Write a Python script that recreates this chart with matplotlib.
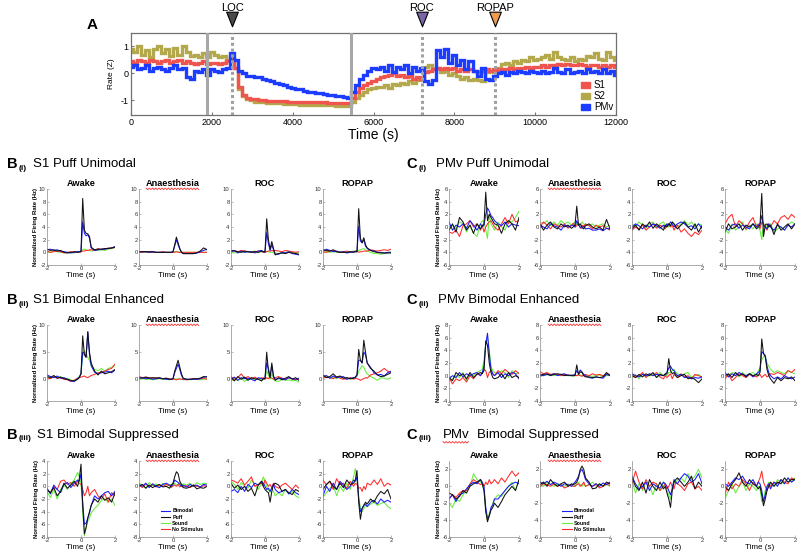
import numpy as np
import matplotlib
matplotlib.use("Agg")
import matplotlib.pyplot as plt
from matplotlib.lines import Line2D
from matplotlib.patches import Patch
from matplotlib.path import Path
from matplotlib.transforms import IdentityTransform, blended_transform_factory

plt.rcParams["font.family"] = ["Liberation Sans", "DejaVu Sans"]
plt.rcParams["axes.unicode_minus"] = False

W, H = 800, 558

# ---------------------------------------------------------------- panel A data
A_TIME = list(range(0, 12001, 100))
A_S2 = [0.9, 0.8, 1.0, 0.7, 0.85, 0.6, 0.9, 1.0, 0.75, 0.9, 0.65, 0.95, 0.7, 1.0, 0.8, 0.65, 0.7, 0.6, 0.75,
        0.6, 0.8, 0.7, 0.6, 0.65, 0.5, 0.6,
        0.2, -0.6, -0.85, -0.95, -1.0,
        -1.05, -1.05, -1.08, -1.1, -1.1, -1.12, -1.12, -1.13, -1.14,
        -1.15, -1.15, -1.16, -1.16, -1.17, -1.17, -1.18, -1.18, -1.18, -1.19, -1.19, -1.2, -1.2, -1.2, -1.2,
        -1.05, -0.9, -0.8, -0.7, -0.6, -0.55, -0.5, -0.5, -0.45, -0.55, -0.4, -0.45, -0.35, -0.4, -0.3, -0.35, -0.25, -0.2,
        0.25, 0.3, 0.15, 0.2, 0.05, 0.1, -0.05, 0.0, -0.1, -0.2, -0.15, -0.25, -0.2, -0.25, -0.3, 0.05, 0.1, 0.05,
        0.2, 0.35, 0.4, 0.3, 0.45, 0.4, 0.5, 0.45, 0.6, 0.5, 0.55, 0.6, 0.7, 0.55, 0.8, 0.6, 0.55, 0.5, 0.6, 0.45,
        0.55, 0.5, 0.65, 0.6, 0.75, 0.55, 0.5, 0.8, 0.6, 0.5]
A_S1 = [0.45, 0.4, 0.5, 0.45, 0.4, 0.5, 0.45, 0.4, 0.45, 0.5, 0.4, 0.45, 0.5, 0.4, 0.45, 0.4, 0.35, 0.4, 0.45,
        0.35, 0.4, 0.4, 0.35, 0.4, 0.45, 0.5,
        0.2, -0.5, -0.8, -0.9, -0.95,
        -0.97, -1.0, -1.0, -1.02, -1.02, -1.03, -1.04, -1.04, -1.05,
        -1.05, -1.05, -1.06, -1.06, -1.07, -1.07, -1.08, -1.08, -1.08, -1.09, -1.09, -1.1, -1.1, -1.1, -1.1,
        -0.9, -0.7, -0.55, -0.45, -0.35, -0.3, -0.2, -0.15, -0.1, -0.05, 0.0, -0.1, -0.05, -0.15, -0.1, -0.2, -0.15, -0.2,
        0.05, 0.1, 0.15, 0.2, 0.15, 0.2, 0.15, 0.2, 0.1, 0.15, 0.1, 0.15, 0.1, 0.05, 0.1, 0.15, 0.1, 0.15,
        0.1, 0.15, 0.15, 0.2, 0.15, 0.2, 0.2, 0.25, 0.2, 0.25, 0.25, 0.3, 0.25, 0.3, 0.3, 0.35, 0.3, 0.35, 0.3, 0.3,
        0.35, 0.3, 0.25, 0.3, 0.3, 0.25, 0.3, 0.25, 0.3, 0.25]
A_PMV = [0.25, 0.3, 0.15, 0.2, 0.3, 0.1, 0.2, 0.25, 0.15, 0.1, 0.2, 0.3, 0.15, 0.2, -0.15, -0.2, 0.1, 0.05, 0.15,
         -0.05, 0.15, 0.1, 0.05, 0.15, 0.2, 0.75,
         0.5, 0.1, 0.0, -0.1, -0.1,
         -0.12, -0.15, -0.2, -0.25, -0.3, -0.35, -0.4, -0.45, -0.5,
         -0.55, -0.58, -0.6, -0.65, -0.68, -0.7, -0.72, -0.75, -0.78, -0.8, -0.82, -0.85, -0.85, -0.88, -0.9,
         -0.7, -0.45, -0.2, -0.05, 0.1, 0.2, 0.15, 0.25, 0.1, 0.3, 0.05, 0.25, 0.15, 0.3, 0.0, 0.25, 0.1, 0.2,
         -0.3, -0.4, -0.25, 0.85, 0.6, 0.9, 0.4, 0.7, 0.3, 0.5, 0.15, 0.45, 0.1, -0.1, 0.2, -0.2, -0.25, -0.1,
         0.0, 0.05, -0.05, 0.05, 0.0, 0.1, 0.05, 0.0, 0.1, 0.05, 0.0, 0.1, 0.0, 0.05, 0.2, 0.05, 0.0, 0.15, 0.0, 0.05,
         0.1, 0.0, 0.15, 0.05, 0.1, 0.0, 0.15, 0.0, 0.1, -0.05]
A_NAMES = ["S1", "S2", "PMv"]
SEGMENT_BOUNDS = [1890, 5450]
EVENT_TIMES = [2510, 7200, 9000]
EVENT_LABELS = ["LOC", "ROC", "ROPAP"]

# ------------------------------------------------------- PSTH panels (B and C)
TIME = [-2.0, -1.8, -1.6, -1.4, -1.2, -1.0, -0.8, -0.6, -0.4, -0.2, -0.1, 0.0,
        0.1, 0.2, 0.3, 0.4, 0.5, 0.6, 0.8, 1.0, 1.2, 1.4, 1.6, 1.8, 2.0]
STATES = ["Awake", "Anaesthesia", "ROC", "ROPAP"]
TRACE_NAMES = ["Bimodal", "Puff", "Sound", "No Stimulus"]
B_TITLES = ["S1 Puff Unimodal", "S1 Bimodal Enhanced", "S1 Bimodal Suppressed"]
C_TITLES = ["PMv Puff Unimodal", "PMv Bimodal Enhanced", "PMv  Bimodal Suppressed"]
ROW_TAGS = ["(i)", "(ii)", "(iii)"]

# each panel: [bimodal, puff, sound, no stimulus]
B1_AWAKE = [
    [0.4, 0.5, 0.3, 0.4, 0.2, 0.1, 0.0, -0.1, 0.0, 0.1, 0.1, 0.1, 4.8, 3.0, 2.6, 2.8, 2.2, 0.7, 0.3, 0.4, 0.5, 0.5, 0.6, 0.7, 0.9],
    [0.5, 0.3, 0.4, 0.2, 0.3, 0.0, -0.1, 0.0, 0.1, 0.0, 0.1, 0.1, 8.5, 3.5, 3.0, 2.9, 2.5, 0.8, 0.4, 0.5, 0.5, 0.6, 0.6, 0.7, 0.8],
    [0.1, 0.0, 0.2, 0.1, 0.0, 0.0, -0.1, 0.0, -0.1, 0.1, 0.1, 0.2, 0.4, 0.5, 0.4, 0.3, 0.3, 0.2, 0.3, 0.3, 0.4, 0.3, 0.5, 0.6, 0.7],
    [0.2, 0.0, 0.1, 0.2, 0.1, -0.1, 0.0, 0.1, 0.0, 0.1, 0.0, 0.1, 0.2, 0.2, 0.3, 0.3, 0.4, 0.4, 0.3, 0.6, 0.4, 0.5, 0.7, 0.6, 0.9]]
B1_ANAES = [
    [0.1, 0.1, 0.1, 0.0, 0.1, 0.0, 0.0, 0.0, 0.0, 0.0, 0.0, 0.1, 1.0, 2.0, 1.2, 0.5, 0.0, -0.2, -0.2, -0.2, -0.2, -0.1, 0.1, 0.3, 0.5],
    [0.1, 0.1, 0.1, 0.1, 0.1, 0.0, 0.0, 0.0, 0.0, 0.0, 0.0, 0.1, 1.2, 2.4, 1.5, 0.6, 0.0, -0.2, -0.2, -0.2, -0.2, -0.1, 0.2, 0.7, 0.4],
    [0.0, 0.1, 0.0, 0.0, 0.0, 0.0, 0.0, 0.0, 0.0, 0.0, 0.0, 0.0, 0.1, 0.1, 0.1, 0.0, 0.0, 0.0, 0.0, 0.0, 0.0, 0.0, 0.0, 0.0, 0.0],
    [0.0, 0.0, 0.1, 0.0, 0.0, 0.0, 0.0, 0.1, 0.0, 0.0, 0.0, 0.0, 0.0, 0.1, 0.0, 0.0, 0.0, 0.0, 0.0, 0.0, 0.0, 0.0, 0.0, 0.0, 0.0]]
B1_ROC = [
    [0.1, 0.3, -0.1, 0.2, 0.0, 0.1, 0.1, -0.1, 0.2, 0.3, 0.1, 0.0, 3.1, 1.4, 0.3, 1.2, 0.4, -0.3, -0.3, 0.0, -0.1, 0.1, -0.2, -0.3, -0.4],
    [0.3, 0.2, 0.1, 0.0, 0.2, 0.1, 0.0, 0.1, 0.0, 0.2, 0.1, 0.1, 5.3, 2.0, 0.5, 1.7, 0.6, -0.4, -0.2, -0.1, -0.2, 0.0, -0.1, -0.2, -0.3],
    [0.0, -0.1, 0.0, 0.1, 0.0, 0.1, 0.1, 0.2, 0.0, 0.1, 0.1, 0.2, 0.1, 0.1, 0.0, 0.0, -0.1, -0.1, -0.2, -0.1, 0.0, 0.1, -0.1, 0.0, -0.1],
    [0.2, 0.3, 0.1, 0.3, 0.2, 0.1, 0.0, 0.1, 0.2, 0.1, 0.0, 0.0, 0.1, 0.2, 0.2, 0.3, 0.2, 0.3, 0.2, 0.1, 0.3, 0.2, 0.1, 0.0, 0.1]]
B1_ROPAP = [
    [0.2, 0.5, 0.3, 0.1, 0.2, 0.0, 0.1, -0.1, 0.0, 0.1, 0.1, 0.1, 4.1, 1.8, 1.5, 2.0, 1.0, 0.6, 0.3, 0.2, 0.0, 0.0, -0.1, 0.0, 0.0],
    [0.4, 0.3, 0.2, 0.4, 0.1, 0.0, 0.0, 0.0, 0.1, 0.0, 0.1, 0.1, 6.9, 2.2, 1.5, 2.3, 1.2, 0.7, 0.3, 0.1, 0.0, -0.1, -0.1, -0.1, -0.1],
    [0.0, 0.1, 0.0, 0.1, 0.0, 0.1, 0.0, 0.0, 0.1, 0.2, 0.2, 0.3, 0.3, 0.4, 0.5, 0.6, 0.4, 0.2, 0.0, -0.2, -0.2, -0.3, -0.2, -0.1, 0.1],
    [0.1, 0.0, 0.2, 0.3, 0.1, 0.0, 0.1, 0.2, 0.0, 0.1, 0.2, 0.2, 0.0, 0.1, 0.1, 0.2, 0.2, 0.2, 0.4, 0.3, 0.2, 0.3, 0.4, 0.3, 0.5]]

B2_AWAKE = [
    [0.8, 0.5, 0.3, 0.6, 0.2, 0.3, 0.0, -0.3, -0.4, 0.1, 0.4, 1.0, 5.0, 4.8, 4.2, 8.8, 4.5, 2.5, 1.3, 1.0, 1.2, 1.3, 1.5, 1.2, 1.7],
    [0.5, 0.3, 0.7, 0.2, 0.4, 0.1, 0.0, -0.2, -0.3, 0.0, 0.3, 1.0, 8.0, 4.5, 4.0, 8.7, 5.0, 3.0, 1.5, 0.8, 1.5, 1.0, 1.2, 1.4, 1.8],
    [0.6, 0.2, 0.4, 0.3, 0.5, 0.1, 0.2, -0.2, -0.2, 0.2, 0.5, 1.2, 4.5, 5.3, 4.8, 4.0, 3.5, 2.5, 1.8, 1.6, 2.0, 1.5, 2.0, 2.2, 2.5],
    [0.3, 0.1, 0.5, 0.2, 0.3, 0.0, -0.1, -0.4, -0.2, 0.2, 0.3, 0.4, 0.5, 0.6, 0.4, 0.3, 0.5, 0.7, 0.9, 1.2, 1.3, 1.5, 1.8, 2.0, 2.8]]
B2_ANAES = [
    [0.2, 0.3, 0.1, 0.2, 0.0, 0.1, 0.2, 0.1, 0.0, 0.0, 0.0, 0.1, 1.2, 2.0, 2.8, 1.8, 0.7, 0.1, 0.0, 0.0, 0.0, 0.0, 0.1, 0.4, 0.5],
    [0.3, 0.2, 0.4, 0.2, 0.3, 0.2, 0.3, 0.1, 0.2, 0.0, 0.0, 0.1, 1.5, 2.5, 3.5, 2.2, 1.0, 0.2, 0.0, 0.0, 0.1, 0.1, 0.2, 0.5, 0.4],
    [0.0, 0.1, 0.0, 0.0, -0.1, 0.0, 0.1, 0.0, 0.0, -0.1, 0.0, 0.0, 0.1, 0.0, 0.1, 0.0, 0.0, -0.1, 0.0, -0.1, 0.0, 0.0, -0.1, 0.0, 0.1],
    [0.5, 0.3, 0.4, 0.3, 0.2, 0.3, 0.2, 0.1, 0.2, 0.1, 0.0, 0.1, 0.0, -0.1, 0.0, 0.1, 0.0, 0.0, -0.1, 0.0, 0.1, 0.0, 0.1, 0.2, 0.0]]
B2_ROC = [
    [0.0, 0.4, -0.2, 0.3, 0.1, 0.2, 0.0, -0.3, 0.3, 0.1, 0.0, 0.2, 3.0, 2.0, 0.5, 2.5, 0.6, 0.0, 0.1, 0.2, -0.1, 0.3, 0.1, 0.0, 0.2],
    [0.3, -0.3, 0.5, 0.0, 0.4, -0.2, 0.3, 0.1, 0.0, -0.3, 0.2, 0.1, 5.0, 1.5, 0.3, 3.0, 0.5, -0.2, 0.3, -0.1, 0.2, 0.5, 0.0, 0.3, -0.2],
    [-0.3, 0.1, -0.2, 0.2, -0.4, 0.0, 0.2, -0.1, 0.1, -0.3, 0.0, 0.1, 1.5, 0.8, 0.0, 1.0, 0.2, -0.3, -0.4, 0.0, -0.2, -0.1, -0.3, -0.2, -0.5],
    [0.5, 0.0, 0.3, 1.0, 0.2, 0.5, 0.1, 0.4, 0.0, 0.3, 0.2, 0.0, 0.3, 0.1, 0.4, 0.2, 0.0, 0.3, 0.5, 0.2, 0.0, 0.3, 0.1, -0.1, 0.1]]
B2_ROPAP = [
    [0.5, 0.7, 0.2, 0.6, 0.3, 0.4, 0.5, 0.0, 0.2, 0.3, 0.3, 0.8, 3.5, 3.5, 3.0, 5.0, 4.5, 3.0, 2.2, 1.2, 0.8, 0.9, 0.6, 1.2, 1.5],
    [0.8, 0.3, 0.5, 1.0, 0.4, 0.6, 0.2, 0.3, 0.1, 0.2, 0.4, 0.8, 5.5, 3.5, 3.0, 7.2, 5.0, 3.0, 2.0, 1.5, 0.8, 0.5, 0.6, 0.9, 1.2],
    [0.3, 0.5, 0.2, 0.4, 0.1, 0.6, 0.2, 0.3, 0.0, 0.2, 0.4, 0.5, 1.5, 2.0, 2.5, 2.2, 1.5, 1.0, 0.5, 0.2, -0.2, 0.3, 0.2, 0.0, 0.3],
    [0.2, 0.4, 0.3, 0.1, 0.5, 0.2, 0.0, 0.1, 0.3, 0.0, 0.2, 0.1, 0.0, -0.2, 0.0, 0.1, 0.3, 0.2, 0.8, 1.0, 1.2, 1.5, 2.0, 1.5, 1.3]]

B3_AWAKE = [
    [-0.3, -1.2, 0.2, -0.5, -1.0, 0.3, 0.6, -0.2, 0.5, 1.0, 0.8, 2.0, -2.5, -6.0, -5.8, -5.0, -4.2, -3.0, -1.5, -2.0, -1.5, -1.0, -0.8, -1.5, -0.8],
    [-0.5, -1.0, -0.2, -1.5, -0.8, 0.5, -0.3, 0.2, 0.8, 0.0, 1.2, 3.5, -3.0, -7.5, -6.5, -5.0, -4.0, -3.0, -2.0, -2.5, -1.5, -2.2, -1.8, -2.5, -1.0],
    [-0.8, -1.8, -0.5, -2.0, -0.5, 0.2, -0.5, 0.4, 1.0, 2.2, 1.5, 0.5, -4.0, -7.8, -6.5, -5.5, -5.0, -4.2, -3.5, -3.0, -2.2, -2.0, -2.5, -2.0, -3.0],
    [-0.5, -1.0, 0.0, -0.5, 0.8, 1.0, 0.3, 0.6, 0.0, 0.8, 0.5, 0.3, -0.5, -1.5, -1.0, 0.0, -1.5, -1.0, -0.5, -1.5, -2.0, -1.2, -2.5, -1.0, -1.5]]
B3_ANAES = [
    [0.3, 0.0, 0.5, -0.2, 0.4, 0.0, -0.2, 0.3, 0.5, 0.2, 0.0, 0.3, 1.0, 0.8, 0.6, 0.3, 0.0, 0.2, -0.1, 0.3, 0.0, 0.2, -0.1, 0.3, 0.2],
    [0.0, 0.3, -0.3, 0.2, -0.2, 0.1, 0.3, -0.1, 0.0, -0.3, 0.2, 0.5, 1.5, 2.3, 2.0, 0.8, 0.3, -0.2, -0.3, -0.1, 0.2, -0.4, -0.2, -0.3, 0.0],
    [0.5, 0.2, -0.3, 0.6, 0.1, 0.4, -0.2, 0.5, 0.0, 0.2, 0.3, 0.0, 0.5, 0.2, 0.3, 0.6, 0.1, 0.4, 0.2, 0.5, 0.0, 0.6, 0.3, 0.5, 0.4],
    [0.2, -0.2, 0.4, 0.0, 0.3, -0.1, 0.2, 0.0, 0.3, 0.1, -0.2, 0.1, 0.2, 0.0, 0.3, -0.1, 0.2, 0.0, 0.1, -0.2, 0.2, 0.0, -0.1, 0.1, 0.0]]
B3_ROC = [
    [-0.8, -0.5, -1.0, 0.0, -0.8, 0.3, -0.2, 0.5, 0.2, 0.8, 0.5, 0.0, -0.5, -0.3, -0.8, -0.2, 0.3, -0.5, -1.0, -0.8, -0.5, -1.2, -0.5, -1.0, -1.3],
    [0.5, -0.3, 0.2, -0.5, 0.0, -0.8, -0.3, -1.5, 0.2, 0.8, 0.0, -0.5, -0.8, -1.0, -2.5, -0.8, 0.3, 0.5, 0.2, -0.8, -0.5, -1.0, -1.3, -0.5, -0.8],
    [0.8, 0.3, -0.5, 0.6, 0.0, -0.3, 1.0, 0.2, -0.5, 0.5, 1.5, 0.8, 0.0, -0.5, -1.0, -0.3, -0.8, -1.5, -1.0, -1.5, -0.5, -1.2, -0.8, -1.5, -1.8],
    [1.0, 0.8, 0.5, 1.2, 0.2, 0.8, 1.5, 0.0, 0.3, 0.5, 0.0, 1.0, 0.5, 0.0, 0.3, -0.2, 0.5, 0.0, -0.3, 0.2, 0.5, 0.0, -0.5, 0.2, -0.3]]
B3_ROPAP = [
    [-1.5, 0.0, -0.8, 0.5, -0.5, 0.8, 0.2, -0.5, 0.0, 1.0, 0.8, 1.5, -2.0, -4.0, -3.5, -3.0, -2.8, -3.2, -2.5, -2.2, -2.8, -2.0, -2.5, -2.2, -2.5],
    [-0.5, 0.3, 0.8, 0.0, -0.5, 0.5, -0.2, 1.0, 0.3, 0.5, 1.0, 2.5, -2.5, -5.2, -3.5, -3.0, -2.5, -2.8, -2.0, -2.5, -1.5, -0.8, -1.2, -0.5, -2.0],
    [-1.8, -1.0, -0.3, 0.2, -1.5, 0.0, -0.8, 0.5, -0.5, 1.5, 2.8, 1.0, -1.5, -3.5, -4.0, -3.5, -3.0, -3.2, -2.8, -2.5, -3.0, -2.7, -2.5, -3.2, -3.5],
    [1.0, 0.2, 0.8, -0.5, 1.2, 0.3, 0.5, -0.3, 0.8, 0.0, 0.5, 0.3, -0.3, -0.2, -0.8, 0.0, -0.5, 0.5, 0.2, 1.0, 0.3, 1.2, 0.0, 0.5, 0.2]]

C1_AWAKE = [
    [0.8, -0.5, 0.3, 0.0, 0.5, -0.2, 1.0, 0.3, -0.5, 0.5, 0.0, 0.3, 2.0, 3.0, 2.5, 1.8, 1.5, 1.0, 0.5, 0.2, 0.8, 0.0, 0.5, 0.3, 0.2],
    [-0.5, 0.5, -0.8, 1.5, 0.8, -0.5, 0.3, -1.0, 0.5, -0.3, 0.2, 0.5, 5.5, 1.0, 2.0, 1.5, 1.0, 0.5, 0.3, -1.0, 0.5, 1.0, 0.5, -0.5, 1.5],
    [-0.5, 0.3, -0.3, 0.8, 0.5, -0.8, 0.3, -1.0, -1.5, 0.5, 1.0, 0.8, -0.5, -1.8, 2.0, 0.5, 0.0, -0.5, 0.8, 0.0, -0.5, 1.0, 0.8, 1.5, 2.5],
    [-0.8, -1.0, -0.5, -1.5, 0.2, 0.5, 1.0, 0.0, 0.5, -0.5, 0.3, -0.8, 0.0, 0.5, 0.8, 1.0, 0.5, 0.0, -0.5, 0.5, 1.5, 0.5, 2.0, 0.8, 1.0]]
C1_ANAES = [
    [0.3, 0.0, -0.3, 0.5, 0.2, 0.0, -0.5, 0.3, 0.0, 0.2, 0.3, 0.0, 1.0, 0.3, 0.0, -0.2, 0.2, -0.3, -0.2, -0.5, -0.5, -0.3, -0.6, -0.2, -0.3],
    [0.5, -0.5, 0.3, 0.8, 0.0, -0.3, 0.5, 0.0, 0.3, -0.2, 0.0, 0.3, 3.3, 0.3, 0.5, 0.0, -0.3, 0.2, 0.5, 0.0, -0.3, 0.0, -0.5, 1.2, -0.3],
    [0.8, 0.5, 1.0, 0.2, 0.8, 0.3, 1.0, 0.5, 0.8, 0.3, 0.5, 0.8, 0.3, 0.6, 0.3, 0.8, 0.5, 0.3, 0.2, 0.5, 0.0, 0.3, 0.5, 0.0, 0.3],
    [0.0, 0.8, 0.3, -0.3, 0.5, 0.2, 0.0, 0.5, -0.2, 0.3, 0.6, 0.0, 0.2, 0.5, -0.2, 0.3, 0.0, 0.5, 0.2, -0.3, 0.3, 0.0, 0.2, -0.2, -0.5]]
C1_ROC = [
    [0.0, 0.5, 0.2, -0.3, 0.3, 0.0, 0.5, 0.2, -0.2, 0.3, 0.0, 0.5, 0.3, 0.8, 0.5, 0.0, 0.3, 0.5, 0.8, 0.5, 0.0, 0.2, -0.3, 0.5, -0.2],
    [-0.3, 0.3, -0.5, 0.5, 0.0, 0.8, -0.2, 0.5, 0.0, -0.5, 0.3, 0.0, 0.5, 0.2, 0.8, 0.5, 0.0, -0.3, 0.3, 0.8, 0.0, -0.5, 0.5, -0.8, 0.2],
    [0.5, 0.0, 0.8, 0.3, -0.2, 0.5, 0.8, 0.0, 0.5, 0.8, 0.2, 0.5, 0.0, 0.3, 0.8, 0.5, 0.2, 0.0, 0.5, 1.0, 0.3, 0.8, 0.0, 0.5, 0.3],
    [-0.5, 0.0, -0.3, 0.3, -0.5, 0.0, 0.5, -0.2, 0.3, 0.0, -0.3, 0.2, 0.5, 0.0, 0.3, -0.5, 0.0, 0.3, -0.8, -0.3, -1.0, -1.5, -0.8, -1.2, -0.5]]
C1_ROPAP = [
    [0.0, -0.5, 0.3, 0.5, -0.2, 0.3, 0.0, -0.3, 0.5, 0.0, 0.3, 0.5, 1.8, 0.3, 0.0, -0.3, 0.5, 0.0, -0.5, 0.3, 0.0, -0.5, 0.3, 0.0, 0.5],
    [-0.8, 0.5, -0.3, 0.0, 0.5, -0.5, 0.3, 0.0, 0.5, -0.3, 0.0, 0.3, 5.3, -1.5, 0.3, 0.5, 0.0, 0.3, -1.2, 0.5, -0.5, 0.0, 0.5, -0.3, 0.5],
    [-0.3, -1.0, 0.5, -0.5, 0.0, 0.8, -0.5, 0.3, -0.3, 0.5, 0.0, -0.5, -2.0, 0.3, 0.5, -0.3, 0.0, 0.5, -0.8, -0.3, 0.0, -0.5, 0.3, 0.8, 0.5],
    [0.5, 1.5, 2.0, 0.0, 1.0, 0.5, -0.3, 0.8, 1.5, 0.0, 0.5, -0.3, 0.8, 0.5, 0.0, -0.5, 0.5, 0.0, 1.0, 0.5, 1.5, 1.8, 1.2, 2.0, 1.5]]

C2_AWAKE = [
    [-0.5, 0.0, -0.3, 0.5, -0.2, 0.3, 0.0, 0.3, 0.5, 0.0, 0.5, 1.5, 5.0, 6.7, 3.5, 1.0, 0.3, 0.0, 0.5, -0.3, 0.3, 0.0, 0.5, 0.3, -0.5],
    [-0.3, -0.8, 0.5, 0.0, 0.3, -0.5, 0.5, -0.3, 0.2, 0.5, 0.3, 0.8, 5.5, 4.8, 2.0, 0.5, -0.3, -0.5, -0.3, 0.3, -0.5, 0.5, -0.3, 0.0, -0.3],
    [-0.8, -0.5, 0.0, -0.3, 0.5, -0.8, 0.3, 0.0, 0.5, 0.8, 1.0, 2.5, 5.0, 6.0, 4.0, 1.5, 0.8, 0.5, 0.3, 0.8, 0.5, -0.3, 0.8, 0.3, 0.5],
    [-0.3, -1.3, -0.5, -0.8, -0.3, -1.0, 0.0, -0.5, 0.3, 0.0, 0.5, 1.0, 0.8, -0.3, 0.5, 0.8, 0.3, 0.0, 0.8, 0.3, 1.0, 0.5, 0.2, 0.8, 0.3]]
C2_ANAES = [
    [0.2, 0.0, 0.2, 0.1, 0.3, 0.0, 0.2, 0.3, 0.0, 0.1, 0.0, 0.2, 0.8, 0.3, 0.9, 0.6, 0.2, 0.0, -0.3, -0.4, -0.2, -0.3, -0.4, 0.2, 0.0],
    [0.0, 0.2, 0.3, 0.0, 0.2, 0.3, 0.2, 0.0, 0.1, 0.0, 0.1, 0.0, 1.7, 0.2, 0.6, 0.5, 0.0, -0.2, -0.2, -0.3, -0.2, -0.3, -0.2, 0.5, 0.0],
    [0.0, 0.3, 0.1, 0.2, 0.0, 0.2, 0.0, 0.1, 0.0, 0.0, -0.1, 0.0, 0.0, 0.2, 0.1, 0.0, 0.0, -0.1, 0.0, -0.1, 0.0, 0.1, -0.1, 0.0, 0.1],
    [0.6, 0.3, 0.5, 0.2, 0.3, 0.2, 0.0, 0.2, 0.1, 0.0, 0.0, 0.1, 0.0, 0.1, 0.0, -0.1, 0.1, 0.2, 0.0, 0.3, 0.1, 0.2, 0.0, 0.3, 0.2]]
C2_ROC = [
    [0.3, 0.0, -0.2, 0.2, 0.0, 0.3, 0.0, 0.2, 0.1, 0.0, 0.3, 0.5, 1.2, 1.5, 1.0, 0.8, 0.3, 0.0, 0.2, -0.3, -0.2, -0.5, -0.3, -0.4, -0.2],
    [0.0, -0.3, 0.2, -0.2, 0.3, 0.0, 0.5, -0.3, 0.2, 0.0, 0.2, 0.3, 2.7, 0.8, 0.3, 0.5, 0.0, -0.3, 0.0, 0.2, -0.5, -0.3, -0.6, -1.1, -0.5],
    [-0.3, 0.2, -0.5, 0.3, -0.2, 0.0, 0.3, -0.2, 0.5, 0.0, 0.2, 0.0, 0.5, 0.5, 0.8, 1.0, 0.6, 0.3, 0.0, 0.3, 0.5, -0.3, 0.0, 0.2, -0.3],
    [0.3, -0.3, 0.0, 0.5, -0.3, 0.3, 0.0, 0.5, -0.2, -0.5, 0.0, -0.3, 0.0, 0.3, -0.5, 0.2, 0.0, -0.3, 0.3, -0.2, 0.0, -0.5, 0.2, 0.0, -0.2]]
C2_ROPAP = [
    [0.5, -0.2, 0.3, 0.0, 0.5, 0.2, 0.0, 0.3, -0.2, 0.3, 0.5, 0.8, 3.8, 3.5, 3.2, 1.5, 0.5, 0.0, -0.5, -0.2, -0.5, 0.0, -0.3, -0.5, -0.2],
    [0.0, 0.3, -0.3, 0.5, 0.0, 0.3, -0.2, 0.3, 0.0, 0.2, 0.0, 0.5, 5.8, 3.5, 3.0, 1.0, 0.0, -0.5, -1.2, -0.3, -0.8, -0.3, -0.5, -0.2, -0.8],
    [0.3, 0.0, 0.5, 0.3, -0.2, 0.5, 0.0, 0.3, 0.5, 0.0, 0.8, 1.2, 2.5, 3.0, 3.0, 2.0, 1.5, 1.0, 0.5, 0.8, 0.5, 0.3, 0.8, 0.5, 0.3],
    [-0.5, 0.2, -0.8, -0.3, 0.3, 0.0, -0.3, 0.2, 0.0, -0.2, 0.0, 0.2, -0.3, 0.0, 0.2, -0.2, 0.0, 0.3, 0.2, 0.5, 0.3, 0.0, 0.8, 0.5, 1.0]]

C3_AWAKE = [
    [-1.5, -1.0, -1.8, -1.0, -0.8, -0.3, 0.2, 0.5, 0.3, 0.8, 0.5, 0.0, -2.5, -3.8, -3.5, -2.5, -2.2, -1.5, -1.5, -1.0, -0.5, 0.0, 0.3, 0.5, 0.3],
    [-0.8, -1.0, -1.5, -1.2, -0.5, -0.8, 0.0, 0.3, 0.5, 0.8, 0.3, -0.5, -3.0, -4.2, -3.5, -2.8, -2.5, -2.0, -2.5, -1.8, -1.0, -0.5, 0.0, -0.5, 0.8],
    [-2.0, -2.5, -1.5, -1.8, -1.0, -0.5, 0.0, 1.5, 0.8, 0.5, 0.2, -0.5, -2.8, -4.0, -3.2, -2.8, -2.0, -1.5, -1.0, -1.2, -0.5, 0.0, 0.5, -0.5, 0.8],
    [-1.5, -1.0, -1.3, -0.8, -0.5, -0.5, 0.3, 0.8, 0.5, 0.2, 0.3, 0.0, 0.5, 0.2, 0.8, 0.3, 0.5, 0.8, 0.3, 1.0, 0.5, 1.2, 1.8, 1.2, 1.6]]
C3_ANAES = [
    [0.5, 0.3, 0.6, 0.2, 0.5, 0.3, 0.0, 0.3, 0.2, 0.0, 0.3, 0.5, 0.8, 1.2, 1.8, 2.0, 1.5, 0.8, 0.3, 0.0, 0.3, 0.0, 0.4, 0.2, 0.5],
    [0.2, 0.5, 0.0, 0.8, 0.3, 0.0, 0.3, 0.5, 0.0, 0.3, 0.2, 0.3, 0.5, 1.0, 2.0, 2.4, 2.0, 1.0, 0.5, -0.3, -0.2, 0.3, 0.0, 0.5, 0.3],
    [0.3, 0.0, 0.5, 0.2, 0.0, 0.3, 0.2, 0.0, 0.3, 0.0, 0.2, 0.0, 0.3, 0.5, 0.2, 0.0, 0.3, 0.0, 0.2, 0.5, 0.0, 0.3, 0.0, 0.2, 0.0],
    [0.0, 0.3, 0.2, 0.0, 0.3, 0.0, 0.2, -0.2, 0.0, 0.2, 0.0, 0.0, 0.2, 0.3, 0.0, 0.2, 0.5, 0.0, 0.2, 0.0, 0.3, -0.2, 0.0, 0.3, 0.1]]
C3_ROC = [
    [1.2, 0.3, -0.3, 0.0, 0.5, -0.5, 0.3, 0.0, -0.2, 0.5, 0.3, 0.0, -0.5, -1.0, -0.3, 0.8, 0.5, 0.3, 1.0, 1.5, 1.2, 0.5, 0.8, 1.5, 0.3],
    [1.0, 0.0, -0.5, 0.5, -0.8, 0.8, 0.0, -0.5, 0.5, -0.3, 0.0, -0.8, -1.5, -2.5, -0.5, 0.5, 0.8, 1.0, 0.5, 0.0, 0.5, 1.2, -0.3, 0.5, 0.0],
    [0.8, -0.8, 0.3, -0.5, 0.5, 0.0, -1.0, 0.3, -0.5, 0.5, 0.0, -0.5, -1.0, -1.5, 0.0, 0.5, 0.3, 0.8, 1.0, 0.5, 1.5, 0.8, 1.2, 2.0, 1.0],
    [0.3, 1.8, 0.5, -0.3, 0.8, 0.0, 0.5, 0.3, -0.5, 0.0, 0.3, -0.3, 0.0, 0.5, 0.0, -0.3, 0.5, 0.3, 0.0, -0.5, 0.3, 0.5, -0.3, 0.0, -0.5]]
C3_ROPAP = [
    [0.3, 0.0, 0.5, 1.0, 0.8, 1.2, 0.5, 0.3, 0.8, 0.0, 0.5, 0.3, -0.5, -1.8, -1.0, 0.0, 0.3, -0.3, 0.5, 0.0, 0.8, 0.3, 1.0, 0.5, 0.8],
    [0.0, -0.5, 0.3, 0.8, 1.6, 0.5, 0.0, 0.8, 0.3, 0.0, -0.3, 0.0, -1.0, -2.3, -1.5, -0.5, 0.0, 0.5, 0.0, 0.5, 0.3, 1.0, 0.5, 0.8, 0.8],
    [-1.5, -0.5, 0.3, -0.8, 0.0, 0.5, -0.5, 0.3, 0.0, -0.5, 0.0, -0.3, -1.8, -1.5, -0.5, 0.0, 0.5, 0.3, 0.0, 0.8, 0.5, 0.3, 1.0, 0.5, 1.0],
    [-1.0, 0.5, -0.3, 0.3, 0.0, 0.8, 0.3, -0.5, 0.5, 0.0, 0.5, 1.0, 1.8, 0.5, 0.0, -0.5, 0.3, 0.0, 0.5, 0.3, 0.8, 0.5, 0.3, 1.0, 0.8]]

B_PANELS = [[B1_AWAKE, B1_ANAES, B1_ROC, B1_ROPAP],
            [B2_AWAKE, B2_ANAES, B2_ROC, B2_ROPAP],
            [B3_AWAKE, B3_ANAES, B3_ROC, B3_ROPAP]]
C_PANELS = [[C1_AWAKE, C1_ANAES, C1_ROC, C1_ROPAP],
            [C2_AWAKE, C2_ANAES, C2_ROC, C2_ROPAP],
            [C3_AWAKE, C3_ANAES, C3_ROC, C3_ROPAP]]

# ------------------------------------------------------------------- styling
A_COLORS = {"S1": "#f0544e", "S2": "#b4a84c", "PMv": "#1c3cff"}
EVENT_COLORS = ["#4a4a4a", "#7a66a6", "#f09c50"]
TRACE_COLORS = ["#1a1aff", "#111111", "#66ee3a", "#ff2b2b"]
B_LIMS = [((-2, 10), range(-2, 11, 2)), ((-4, 10), [0, 5, 10]), ((-8, 4), range(-8, 5, 2))]
C_LIMS = [((-6, 6), range(-6, 7, 2)), ((-4, 8), range(-4, 9, 2)), ((-6, 3), range(-6, 3, 2))]
B_COLS = [47, 139, 231, 323]
C_COLS = [449, 540, 632, 725]
ROW_TOPS = [189, 325, 461]
HEADER_Y = [164, 300, 435]

fig = plt.figure(figsize=(W / 100, H / 100), dpi=100)


def box(x, y, w, h):
    """pixel box (left, top, width, height) -> figure fraction rect"""
    return [x / W, 1 - (y + h) / H, w / W, h / H]


# ------------------------------------------------------------------- panel A
axA = fig.add_axes(box(131, 33, 485, 82))
for name, vals in (("S2", A_S2), ("S1", A_S1), ("PMv", A_PMV)):
    axA.plot(A_TIME, vals, color=A_COLORS[name], lw=2.4, drawstyle="steps-mid",
             solid_joinstyle="miter", zorder=2)
for b in SEGMENT_BOUNDS:
    axA.axvline(b, color="#a8a8a8", lw=2.2, zorder=3)
tri = Path([(-0.8, 1), (0.8, 1), (0, -1), (-0.8, 1)],
           [Path.MOVETO, Path.LINETO, Path.LINETO, Path.CLOSEPOLY])
btf = blended_transform_factory(axA.transData, axA.transAxes)
for t, lab, col in zip(EVENT_TIMES, EVENT_LABELS, EVENT_COLORS):
    axA.axvline(t, color="#a0a0a0", lw=2.2, ls=(0, (1.0, 0.9)), zorder=3)
    axA.plot([t], [1.165], marker=tri, ms=10.5, mfc=col, mec="black", mew=0.8,
             transform=btf, clip_on=False)
    axA.text(t, 1.3, lab, transform=btf, ha="center", va="center", fontsize=8)
axA.set_xlim(0, 12000)
axA.set_ylim(-1.55, 1.5)
axA.set_xticks(range(0, 12001, 2000))
axA.set_yticks([-1, 0, 1])
axA.tick_params(labelsize=6.5, length=2, direction="in", pad=2, color="#777777")
for s in axA.spines.values():
    s.set_color("#707070")
    s.set_linewidth(0.9)
axA.set_xlabel("Time (s)", fontsize=10, labelpad=1)
axA.set_ylabel("Rate (Z)", fontsize=6, labelpad=4)
axA.legend(handles=[Patch(color=A_COLORS[n], label=n) for n in A_NAMES],
           loc="lower right", bbox_to_anchor=(1.0, 0.0), fontsize=7, frameon=False,
           handlelength=0.9, handleheight=0.6, handletextpad=0.4, labelspacing=0.1,
           borderaxespad=0.1, borderpad=0.2)
fig.text(92 / W, 1 - 25 / H, "A", fontsize=11, fontweight="bold", ha="center", va="center")

# ----------------------------------------------------------------- B / C grid
anaes_titles = []
header_pmv = None


def psth(ax, traces, lims, ticks, title, first):
    for idx in (2, 3, 0, 1):
        ax.plot(TIME, traces[idx], color=TRACE_COLORS[idx], lw=0.75)
    ax.set_xlim(-2, 2)
    ax.set_ylim(*lims)
    ax.set_xticks([-2, 0, 2])
    ax.set_yticks(list(ticks))
    for side in ("top", "right"):
        ax.spines[side].set_visible(False)
    for side in ("left", "bottom"):
        ax.spines[side].set_color("#8a8a8a")
        ax.spines[side].set_linewidth(0.5)
    ax.tick_params(labelsize=4.2, length=1.5, width=0.4, pad=1, direction="in",
                   colors="#8a8a8a", labelcolor="#333333")
    ax.set_xlabel("Time (s)", fontsize=5.8, labelpad=0.5)
    t = ax.set_title(title, fontsize=6.6, fontweight="bold", pad=2.5)
    if first:
        ax.set_ylabel("Normalized Firing Rate (Hz)", fontsize=4.3, fontweight="bold", labelpad=1)
    return t


for block, cols, panels, lims, titles, letter, lx, tx in (
        ("B", B_COLS, B_PANELS, B_LIMS, B_TITLES, "B", 12, [33, 33, 37]),
        ("C", C_COLS, C_PANELS, C_LIMS, C_TITLES, "C", 412, [436, 438, 443])):
    for r in range(3):
        y0 = ROW_TOPS[r]
        for c in range(4):
            ax = fig.add_axes(box(cols[c], y0, 68 if block == "B" else 70, 76))
            t = psth(ax, panels[r][c], lims[r][0], lims[r][1], STATES[c], c == 0)
            if STATES[c] == "Anaesthesia":
                anaes_titles.append(t)
            if r == 2 and c == 1:
                handles = [Line2D([], [], color=TRACE_COLORS[i], lw=0.8) for i in range(4)]
                ax.legend(handles, TRACE_NAMES, loc="lower left", bbox_to_anchor=(0.27, 0.02),
                          frameon=False, prop={"size": 3.8, "weight": "bold"},
                          handlelength=1.8, handletextpad=0.4, labelspacing=0.25,
                          borderaxespad=0.2)
        hy = 1 - HEADER_Y[r] / H
        fig.text(lx / W, hy, letter, fontsize=10.5, fontweight="bold", ha="center", va="center")
        fig.text((lx + 7) / W, hy - 4 / H, ROW_TAGS[r], fontsize=6, fontweight="bold",
                 ha="left", va="center")
        if block == "C" and r == 2:
            header_pmv = fig.text(tx[r] / W, hy, "PMv", fontsize=9.5, ha="left", va="center")
            fig.text((tx[r] + 34) / W, hy, "Bimodal Suppressed", fontsize=9.5,
                     ha="left", va="center")
        else:
            fig.text(tx[r] / W, hy, titles[r], fontsize=9.5, ha="left", va="center")

# red spell-check squiggles under "Anaesthesia" and "PMv"
fig.canvas.draw()
for txt in anaes_titles + [header_pmv]:
    bb = txt.get_window_extent()
    xs = np.arange(bb.x0, bb.x1, 1.6)
    ys = bb.y0 - 0.5 + np.where(np.arange(len(xs)) % 2 == 0, 0.0, -1.6)
    fig.add_artist(Line2D(xs, ys, color="#ff3030", lw=0.6, transform=IdentityTransform()))

fig.savefig("out.png", dpi=100)
